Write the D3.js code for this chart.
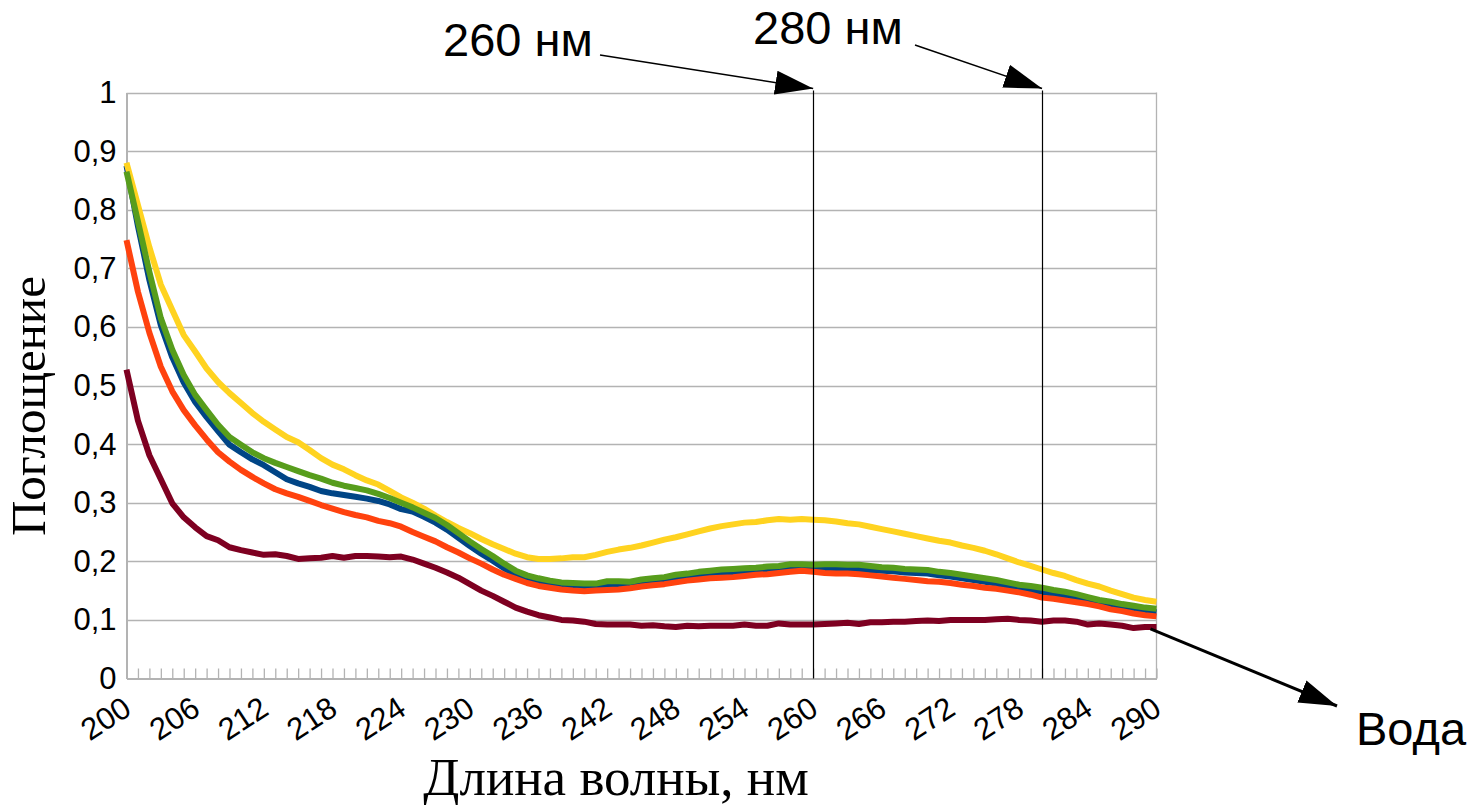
<!DOCTYPE html>
<html>
<head>
<meta charset="utf-8">
<script src="https://cdnjs.cloudflare.com/ajax/libs/d3/7.8.5/d3.min.js"></script>
<style>
body { margin: 0; background: #fff; }
svg { display: block; }
</style>
</head>
<body>
<svg id="chart" width="1471" height="805"></svg>
<script>
// wavelengths, one reading per nm
var wavelengths = d3.range(200, 291);

var blue = [0.875,0.772,0.680,0.603,0.548,0.505,0.472,0.446,0.422,0.399,
    0.386,0.374,0.364,0.352,0.340,0.333,0.327,0.320,0.316,0.313,
    0.310,0.307,0.303,0.297,0.289,0.285,0.276,0.266,0.254,0.240,
    0.226,0.213,0.201,0.188,0.178,0.170,0.165,0.161,0.159,0.158,
    0.157,0.157,0.158,0.159,0.160,0.162,0.165,0.167,0.170,0.172,
    0.175,0.177,0.179,0.180,0.181,0.182,0.184,0.185,0.187,0.188,
    0.188,0.188,0.187,0.186,0.186,0.185,0.184,0.183,0.181,0.180,
    0.179,0.176,0.174,0.171,0.168,0.165,0.162,0.158,0.154,0.151,
    0.148,0.144,0.141,0.138,0.134,0.129,0.126,0.122,0.118,0.115,0.113];

var orange = [0.748,0.660,0.590,0.532,0.490,0.458,0.432,0.408,0.386,0.370,
    0.356,0.344,0.333,0.323,0.316,0.310,0.303,0.296,0.290,0.284,
    0.279,0.275,0.269,0.265,0.259,0.250,0.242,0.234,0.224,0.215,
    0.205,0.196,0.186,0.177,0.170,0.163,0.158,0.155,0.152,0.150,
    0.149,0.150,0.151,0.152,0.154,0.157,0.159,0.161,0.164,0.167,
    0.169,0.171,0.172,0.173,0.175,0.177,0.178,0.180,0.182,0.184,
    0.182,0.180,0.179,0.179,0.178,0.176,0.174,0.172,0.170,0.168,
    0.166,0.165,0.163,0.160,0.158,0.155,0.153,0.150,0.147,0.143,
    0.138,0.136,0.133,0.130,0.127,0.123,0.118,0.115,0.111,0.108,0.106];

var yellow = [0.880,0.808,0.736,0.672,0.629,0.586,0.558,0.529,0.506,0.487,
    0.470,0.453,0.438,0.425,0.412,0.403,0.390,0.376,0.365,0.357,
    0.347,0.338,0.331,0.320,0.309,0.300,0.290,0.278,0.267,0.257,
    0.248,0.238,0.229,0.221,0.213,0.207,0.204,0.204,0.205,0.207,
    0.207,0.211,0.216,0.220,0.223,0.227,0.232,0.237,0.241,0.246,
    0.251,0.256,0.260,0.263,0.266,0.267,0.270,0.272,0.271,0.272,
    0.271,0.270,0.268,0.265,0.263,0.259,0.255,0.251,0.247,0.243,
    0.239,0.235,0.232,0.227,0.223,0.218,0.212,0.205,0.198,0.192,
    0.186,0.180,0.175,0.168,0.162,0.157,0.150,0.144,0.138,0.134,0.131];

var green = [0.865,0.780,0.694,0.615,0.561,0.518,0.484,0.458,0.433,0.412,
    0.399,0.386,0.376,0.368,0.361,0.354,0.347,0.341,0.334,0.329,
    0.325,0.321,0.315,0.308,0.300,0.292,0.283,0.274,0.262,0.248,
    0.234,0.221,0.209,0.196,0.184,0.176,0.171,0.167,0.164,0.163,
    0.162,0.162,0.166,0.166,0.165,0.169,0.171,0.173,0.177,0.179,
    0.182,0.184,0.186,0.187,0.188,0.189,0.191,0.192,0.195,0.195,
    0.194,0.195,0.195,0.194,0.194,0.192,0.190,0.189,0.187,0.186,
    0.185,0.182,0.180,0.177,0.174,0.171,0.168,0.164,0.160,0.158,
    0.155,0.151,0.148,0.144,0.139,0.134,0.131,0.127,0.124,0.121,0.119];

// water
var maroon = [0.527,0.440,0.381,0.340,0.299,0.275,0.258,0.243,0.236,0.224,
    0.219,0.215,0.211,0.212,0.209,0.204,0.205,0.206,0.209,0.206,
    0.209,0.209,0.208,0.207,0.208,0.203,0.196,0.189,0.181,0.172,
    0.161,0.150,0.141,0.131,0.121,0.114,0.108,0.104,0.100,0.099,
    0.097,0.093,0.092,0.092,0.092,0.090,0.091,0.089,0.088,0.090,
    0.089,0.090,0.090,0.090,0.092,0.090,0.090,0.094,0.092,0.092,
    0.092,0.093,0.094,0.095,0.093,0.096,0.096,0.097,0.097,0.098,
    0.099,0.098,0.100,0.100,0.100,0.100,0.101,0.102,0.100,0.099,
    0.097,0.099,0.099,0.097,0.092,0.094,0.092,0.090,0.086,0.088,0.088];

var seriesList = [blue, orange, yellow, green, maroon];
var seriesColors = ["#004586", "#ff420e", "#ffd320", "#579d1c", "#7e0021"];

var yTickValues = [0, 0.1, 0.2, 0.3, 0.4, 0.5, 0.6, 0.7, 0.8, 0.9, 1];
var xLabelValues = [200, 206, 212, 218, 224, 230, 236, 242, 248, 254, 260, 266, 272, 278, 284, 290];
var markedWavelengths = [260, 280];

var svg = d3.select("#chart");

var x = d3.scaleLinear().domain([200, 290]).range([126.5, 1156.5]);
var y = d3.scaleLinear().domain([0, 1]).range([678.5, 92.5]);

var gray = "#b3b3b3";

// grid lines
svg.append("g").selectAll("line").data(yTickValues.slice(1)).enter().append("line")
    .attr("x1", x(200)).attr("x2", x(290))
    .attr("y1", function(d){ return Math.round(y(d)) + 0.5; })
    .attr("y2", function(d){ return Math.round(y(d)) + 0.5; })
    .attr("stroke", gray).attr("stroke-width", 1.3);

// right border
svg.append("line")
    .attr("x1", x(290)).attr("x2", x(290))
    .attr("y1", y(1)).attr("y2", y(0))
    .attr("stroke", gray).attr("stroke-width", 1.3);

// x axis with inner ticks every nm
var xAxis = d3.axisBottom(x).tickValues(wavelengths).tickSizeInner(-10).tickSizeOuter(0).tickFormat("");
var gx = svg.append("g").attr("transform", "translate(0," + y(0) + ")").call(xAxis);
gx.select(".domain").attr("stroke", gray).attr("stroke-width", 2);
gx.selectAll(".tick line").attr("stroke", gray).attr("stroke-width", 1.3);

// y axis
var yAxis = d3.axisLeft(y).tickValues(yTickValues).tickSize(0).tickPadding(10)
    .tickFormat(function(d){ return String(d).replace(".", ","); });
var gy = svg.append("g").attr("transform", "translate(" + x(200) + ",0)").call(yAxis);
gy.select(".domain").attr("stroke", gray).attr("stroke-width", 2);
gy.selectAll(".tick text")
    .attr("font-family", "Liberation Sans, Arial, sans-serif")
    .attr("font-size", 31).attr("fill", "#000");

// rotated x labels
svg.append("g").selectAll("text").data(xLabelValues).enter().append("text")
    .attr("transform", function(d){ return "translate(" + (x(d) + 1) + "," + (y(0) + 26) + ") rotate(-33)"; })
    .attr("text-anchor", "end")
    .attr("dominant-baseline", "central")
    .attr("font-family", "Liberation Sans, Arial, sans-serif")
    .attr("font-size", 31)
    .text(function(d){ return d; });

// curves
var line = d3.line()
    .x(function(d, i){ return x(wavelengths[i]); })
    .y(function(d){ return y(d); });

svg.append("g").selectAll("path").data(seriesList).enter().append("path")
    .attr("d", line)
    .attr("fill", "none")
    .attr("stroke", function(d, i){ return seriesColors[i]; })
    .attr("stroke-width", 6)
    .attr("stroke-linejoin", "round");

// vertical markers at 260 and 280 nm
svg.append("g").selectAll("line").data(markedWavelengths).enter().append("line")
    .attr("x1", function(d){ return Math.round(x(d)) + 0.5; })
    .attr("x2", function(d){ return Math.round(x(d)) + 0.5; })
    .attr("y1", y(1) - 2).attr("y2", y(0))
    .attr("stroke", "#000").attr("stroke-width", 1.2);

// arrowheads
svg.append("defs").append("marker")
    .attr("id", "head")
    .attr("markerUnits", "userSpaceOnUse")
    .attr("markerWidth", 40).attr("markerHeight", 26)
    .attr("refX", 38).attr("refY", 12)
    .attr("orient", "auto")
    .append("path").attr("d", "M0,0 L38,12 L0,24 Z").attr("fill", "#000");

function arrow(x1, y1, x2, y2, w) {
    svg.append("line")
        .attr("x1", x1).attr("y1", y1).attr("x2", x2).attr("y2", y2)
        .attr("stroke", "#000").attr("stroke-width", w)
        .attr("marker-end", "url(#head)");
}

arrow(600, 55, x(260), y(1) - 4, 1.5);
arrow(915, 45, x(280), y(1) - 4, 1.5);
arrow(x(290) - 6, y(maroon[maroon.length - 1]) + 2, 1337, 706, 3);

// annotation texts
function label(tx, ty, s) {
    svg.append("text").attr("x", tx).attr("y", ty)
        .attr("font-family", "Liberation Sans, Arial, sans-serif")
        .attr("font-size", 47).attr("fill", "#000")
        .text(s);
}
label(443, 56, "260 нм");
label(753, 44, "280 нм");
label(1356, 745, "Вода");

// axis titles
svg.append("text")
    .attr("x", 616).attr("y", 795)
    .attr("text-anchor", "middle")
    .attr("font-family", "Liberation Serif, Times New Roman, serif")
    .attr("font-size", 53)
    .text("Длина волны, нм");

svg.append("text")
    .attr("transform", "translate(45,406) rotate(-90)")
    .attr("text-anchor", "middle")
    .attr("font-family", "Liberation Serif, Times New Roman, serif")
    .attr("font-size", 49)
    .text("Поглощение");
</script>
</body>
</html>
